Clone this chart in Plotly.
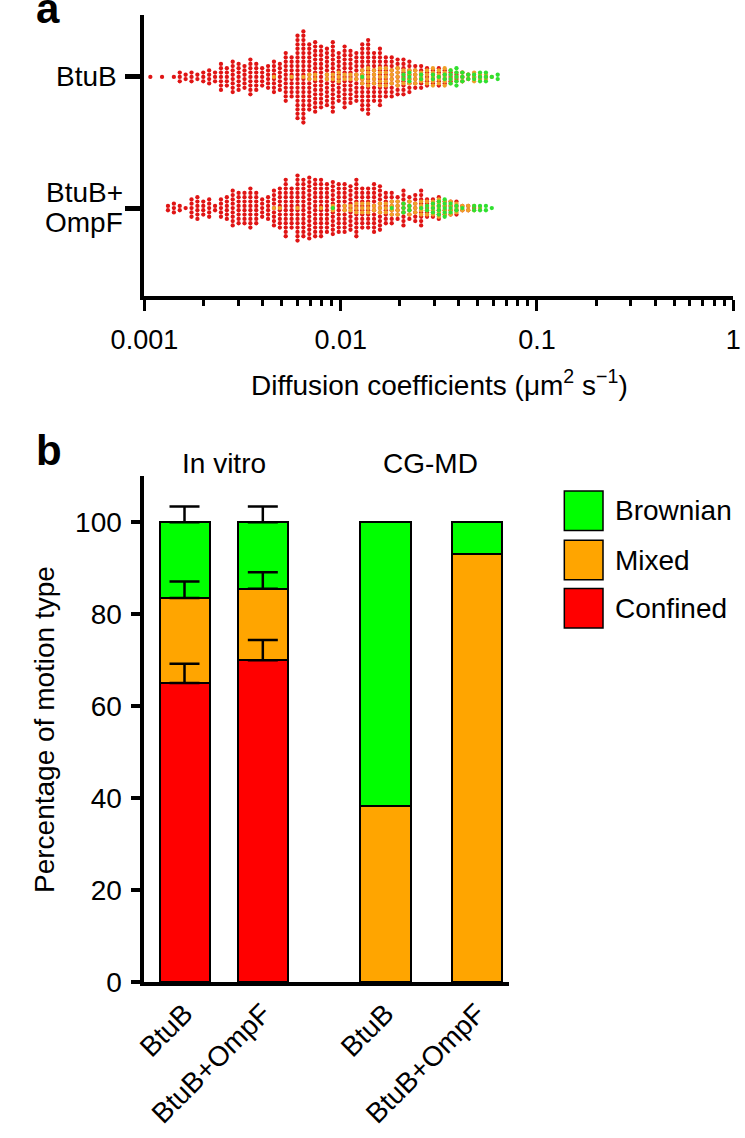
import plotly.graph_objects as go

W, H = 745, 1138

# ---------------- Panel a data: swarm columns (diffusion coefficient, um^2/s) ----------------
column_D = [0.001072, 0.001148, 0.001230, 0.001318, 0.001413, 0.001514, 0.001622, 0.001738,
            0.001862, 0.001995, 0.002138, 0.002291, 0.002455, 0.002630, 0.002818, 0.003020,
            0.003236, 0.003467, 0.003715, 0.003981, 0.004266, 0.004571, 0.004898, 0.005248,
            0.005623, 0.006026, 0.006457, 0.006918, 0.007413, 0.007943, 0.008511, 0.009120,
            0.009772, 0.01047, 0.01122, 0.01202, 0.01288, 0.01380, 0.01479, 0.01585,
            0.01698, 0.01820, 0.01950, 0.02089, 0.02239, 0.02399, 0.02570, 0.02754,
            0.02951, 0.03162, 0.03388, 0.03631, 0.03890, 0.04169, 0.04467, 0.04786,
            0.05129, 0.05495, 0.05888, 0.06310]

# number of trajectories in each column
btub_confined = [1, 0, 1, 0, 1, 3, 2, 3, 2, 3, 4, 3, 7, 5, 8, 7, 6, 9, 7, 5,
                 6, 8, 7, 12, 10, 20, 22, 16, 17, 15, 14, 17, 12, 15, 13, 12, 16, 18, 12, 14,
                 10, 10, 9, 9, 8, 6, 6, 5, 4, 5, 4, 3, 2, 3, 2, 1, 1, 1, 0, 0]
btub_mixed = [0, 0, 0, 0, 0, 0, 0, 0, 0, 0, 0, 0, 0, 0, 0, 0, 0, 0, 0, 0,
              0, 1, 0, 0, 1, 0, 1, 2, 2, 0, 2, 2, 3, 2, 2, 2, 4, 5, 4, 5,
              5, 4, 5, 4, 4, 4, 3, 4, 5, 4, 5, 4, 3, 3, 2, 3, 2, 2, 1, 0]
btub_brownian = [0, 0, 0, 0, 0, 0, 0, 0, 0, 0, 0, 0, 0, 0, 0, 0, 0, 0, 0, 0,
                 0, 0, 0, 0, 0, 0, 0, 0, 0, 0, 0, 0, 0, 0, 0, 0, 1, 0, 0, 0,
                 0, 0, 0, 2, 3, 0, 2, 0, 2, 1, 2, 4, 5, 3, 2, 2, 3, 3, 1, 2]

ompf_confined = [0, 0, 0, 2, 3, 2, 1, 5, 6, 4, 5, 2, 5, 6, 9, 8, 8, 10, 8, 5,
                 6, 9, 10, 14, 10, 16, 14, 15, 14, 14, 12, 13, 12, 12, 11, 14, 10, 10, 12, 11,
                 8, 8, 6, 9, 6, 7, 9, 5, 5, 6, 4, 4, 4, 2, 2, 1, 0, 0, 0, 0]
ompf_mixed = [0, 0, 0, 0, 0, 0, 0, 0, 0, 0, 0, 0, 0, 0, 0, 0, 0, 0, 0, 0,
              0, 1, 1, 0, 0, 1, 0, 0, 0, 1, 0, 2, 0, 2, 2, 3, 3, 3, 2, 3,
              3, 4, 4, 3, 4, 3, 4, 4, 4, 5, 4, 4, 3, 2, 2, 2, 1, 0, 0, 0]
ompf_brownian = [0, 0, 0, 0, 0, 0, 0, 0, 0, 0, 0, 0, 0, 0, 0, 0, 0, 0, 0, 0,
                 0, 0, 0, 0, 0, 0, 0, 0, 0, 0, 0, 1, 0, 0, 0, 0, 0, 0, 0, 0,
                 0, 1, 0, 3, 2, 0, 1, 2, 3, 4, 5, 3, 2, 1, 0, 2, 2, 2, 1, 0]

swarm_groups = ["BtuB", "BtuB+OmpF"]
x_tick_values = [0.001, 0.01, 0.1, 1]
x_tick_labels = ["0.001", "0.01", "0.1", "1"]

# ---------------- Panel b data: percentage of motion type ----------------
bar_labels = ["BtuB", "BtuB+OmpF", "BtuB", "BtuB+OmpF"]
confined_pct = [65.0, 70.0, 0.0, 0.0]
mixed_pct = [18.5, 15.5, 38.3, 93.0]
brownian_pct = [16.5, 14.5, 61.7, 7.0]
confined_err = [4.2, 4.4]
mixed_err = [3.6, 3.6]
brownian_err = [3.4, 3.4]
y_ticks_b = [0, 20, 40, 60, 80, 100]

# ---------------- styling / layout constants ----------------
FONT = "Liberation Sans, Arial, Helvetica, sans-serif"
RED, ORANGE, GREEN = "#ff0000", "#ffa500", "#00ff00"
DOT_RED, DOT_ORANGE, DOT_GREEN = "#e01515", "#f0a028", "#30e030"
bar_positions = [159.5, 242.5, 372.5, 469.5]   # x-axis units of panel b
BAR_WIDTH = 53


def px(x):
    return x / W


def py(y):
    return 1 - y / H


# panel a geometry
A_LEFT, A_RIGHT, A_TOP, A_BOTTOM = 117, 741, 15, 300
A_YRANGE = [-0.669, 1.474]
group_center = {"BtuB": 1.0, "BtuB+OmpF": 0.0}
px_per_unit_a = (A_BOTTOM - A_TOP) / (A_YRANGE[1] - A_YRANGE[0])
DOT_STEP = 4.4 / px_per_unit_a


def swarm(counts, center):
    xs, ys = [], []
    for d, n in zip(column_D, counts):
        for i in range(n):
            xs.append(d)
            ys.append(center + (i - (n - 1) / 2) * DOT_STEP)
    return xs, ys


fig = go.Figure()

for grp, series in (("BtuB", (btub_confined, btub_mixed, btub_brownian)),
                    ("BtuB+OmpF", (ompf_confined, ompf_mixed, ompf_brownian))):
    for counts, col in zip(series, (DOT_RED, DOT_ORANGE, DOT_GREEN)):
        xs, ys = swarm(counts, group_center[grp])
        fig.add_trace(go.Scatter(x=xs, y=ys, mode="markers", xaxis="x", yaxis="y",
                                 marker=dict(size=4.3, color=col, line=dict(width=0)),
                                 showlegend=False, hoverinfo="skip"))

# ---------------- Panel b bars ----------------
for vals, col, name in ((confined_pct, RED, "Confined"), (mixed_pct, ORANGE, "Mixed"),
                        (brownian_pct, GREEN, "Brownian")):
    fig.add_trace(go.Bar(x=bar_positions, y=vals, width=BAR_WIDTH, name=name,
                         marker=dict(color=col, line=dict(color="black", width=2)),
                         xaxis="x2", yaxis="y2", showlegend=False))

# error bars (upper only) at the top of each stacked segment of the in-vitro bars
tops_confined = [confined_pct[i] for i in range(2)]
tops_mixed = [confined_pct[i] + mixed_pct[i] for i in range(2)]
tops_brown = [confined_pct[i] + mixed_pct[i] + brownian_pct[i] for i in range(2)]
for tops, errs in ((tops_confined, confined_err), (tops_mixed, mixed_err), (tops_brown, brownian_err)):
    fig.add_trace(go.Scatter(x=bar_positions[:2], y=tops, mode="markers", xaxis="x2", yaxis="y2",
                             marker=dict(size=1, color="rgba(0,0,0,0)"),
                             error_y=dict(type="data", symmetric=False, array=errs,
                                          arrayminus=[0] * len(errs), color="black",
                                          thickness=2.5, width=15),
                             showlegend=False, hoverinfo="skip"))

minor_vals = [m * 10 ** e for e in (-3, -2, -1) for m in range(2, 10)]

fig.update_layout(
    width=W, height=H, margin=dict(l=0, r=0, t=0, b=0),
    paper_bgcolor="white", plot_bgcolor="white",
    font=dict(family=FONT, size=28, color="black"),
    barmode="stack", showlegend=False,
    xaxis=dict(type="log", range=[-3, 0], domain=[px(A_LEFT), px(A_RIGHT)], anchor="y",
               showline=True, linecolor="black", linewidth=4, showgrid=False, zeroline=False,
               tickmode="array", tickvals=x_tick_values, ticktext=x_tick_labels,
               ticks="outside", ticklen=11, tickwidth=3, tickcolor="black",
               tickfont=dict(size=27), ticklabelstandoff=6, ticklabeloverflow="allow",
               minor=dict(tickmode="array", tickvals=minor_vals, ticks="outside",
                          ticklen=6, tickwidth=3, tickcolor="black", showgrid=False)),
    yaxis=dict(range=A_YRANGE, domain=[py(A_BOTTOM), py(A_TOP)], anchor="x",
               showline=True, linecolor="black", linewidth=4, showgrid=False, zeroline=False,
               tickmode="array", tickvals=[group_center[g] for g in swarm_groups],
               showticklabels=False, ticks="outside", ticklen=15, tickwidth=5,
               tickcolor="black"),
    xaxis2=dict(range=[117, 503], domain=[px(117), px(503)], anchor="y2",
                showline=True, linecolor="black", linewidth=4, showgrid=False, zeroline=False,
                tickmode="array", tickvals=bar_positions, ticktext=bar_labels,
                tickangle=-45, ticks="", tickfont=dict(size=28)),
    yaxis2=dict(range=[0, 110], domain=[py(996), py(483)], anchor="x2",
                showline=True, linecolor="black", linewidth=4, showgrid=False, zeroline=False,
                tickmode="array", tickvals=y_ticks_b, ticks="outside", ticklen=9,
                tickwidth=4, tickcolor="black", tickfont=dict(size=28), ticklabelstandoff=4),
)

ann = []


def text(t, x, y, size=28, xanchor="center", yanchor="middle", bold=False, angle=0, align="center"):
    ann.append(dict(text=("<b>%s</b>" % t) if bold else t, x=px(x), y=py(y), xref="paper",
                    yref="paper", showarrow=False, xanchor=xanchor, yanchor=yanchor,
                    textangle=angle, align=align,
                    font=dict(family=FONT, size=size, color="black")))


text("a", 0, 9, size=42, xanchor="left", bold=True)
text("b", 0, 457, size=42, xanchor="left", bold=True)
text(swarm_groups[0], 90, 78, xanchor="right")
text("BtuB+", 11, 195, xanchor="left")
text("OmpF", 10, 226, xanchor="left")
text("Diffusion coefficients (\u03bcm<sup>2</sup> s<sup>\u22121</sup>)", 430, 388)
text("In vitro", 201, 470)
text("CG-MD", 420, 470)
text("Percentage of motion type", 11, 740, angle=-90)

legend_items = [("Brownian", GREEN, 498), ("Mixed", ORANGE, 548), ("Confined", RED, 597)]
shapes = []
for name, col, top in legend_items:
    shapes.append(dict(type="rect", xref="paper", yref="paper", x0=px(562), x1=px(603),
                       y0=py(top + 40), y1=py(top), fillcolor=col,
                       line=dict(color="black", width=1.5)))
    text(name, 614, top + 20, xanchor="left")

fig.update_layout(annotations=ann, shapes=shapes)
fig.write_html("out.html", config={"displayModeBar": False},
               post_script="document.body.style.margin='0';"
                           "document.body.style.overflow='hidden';")
